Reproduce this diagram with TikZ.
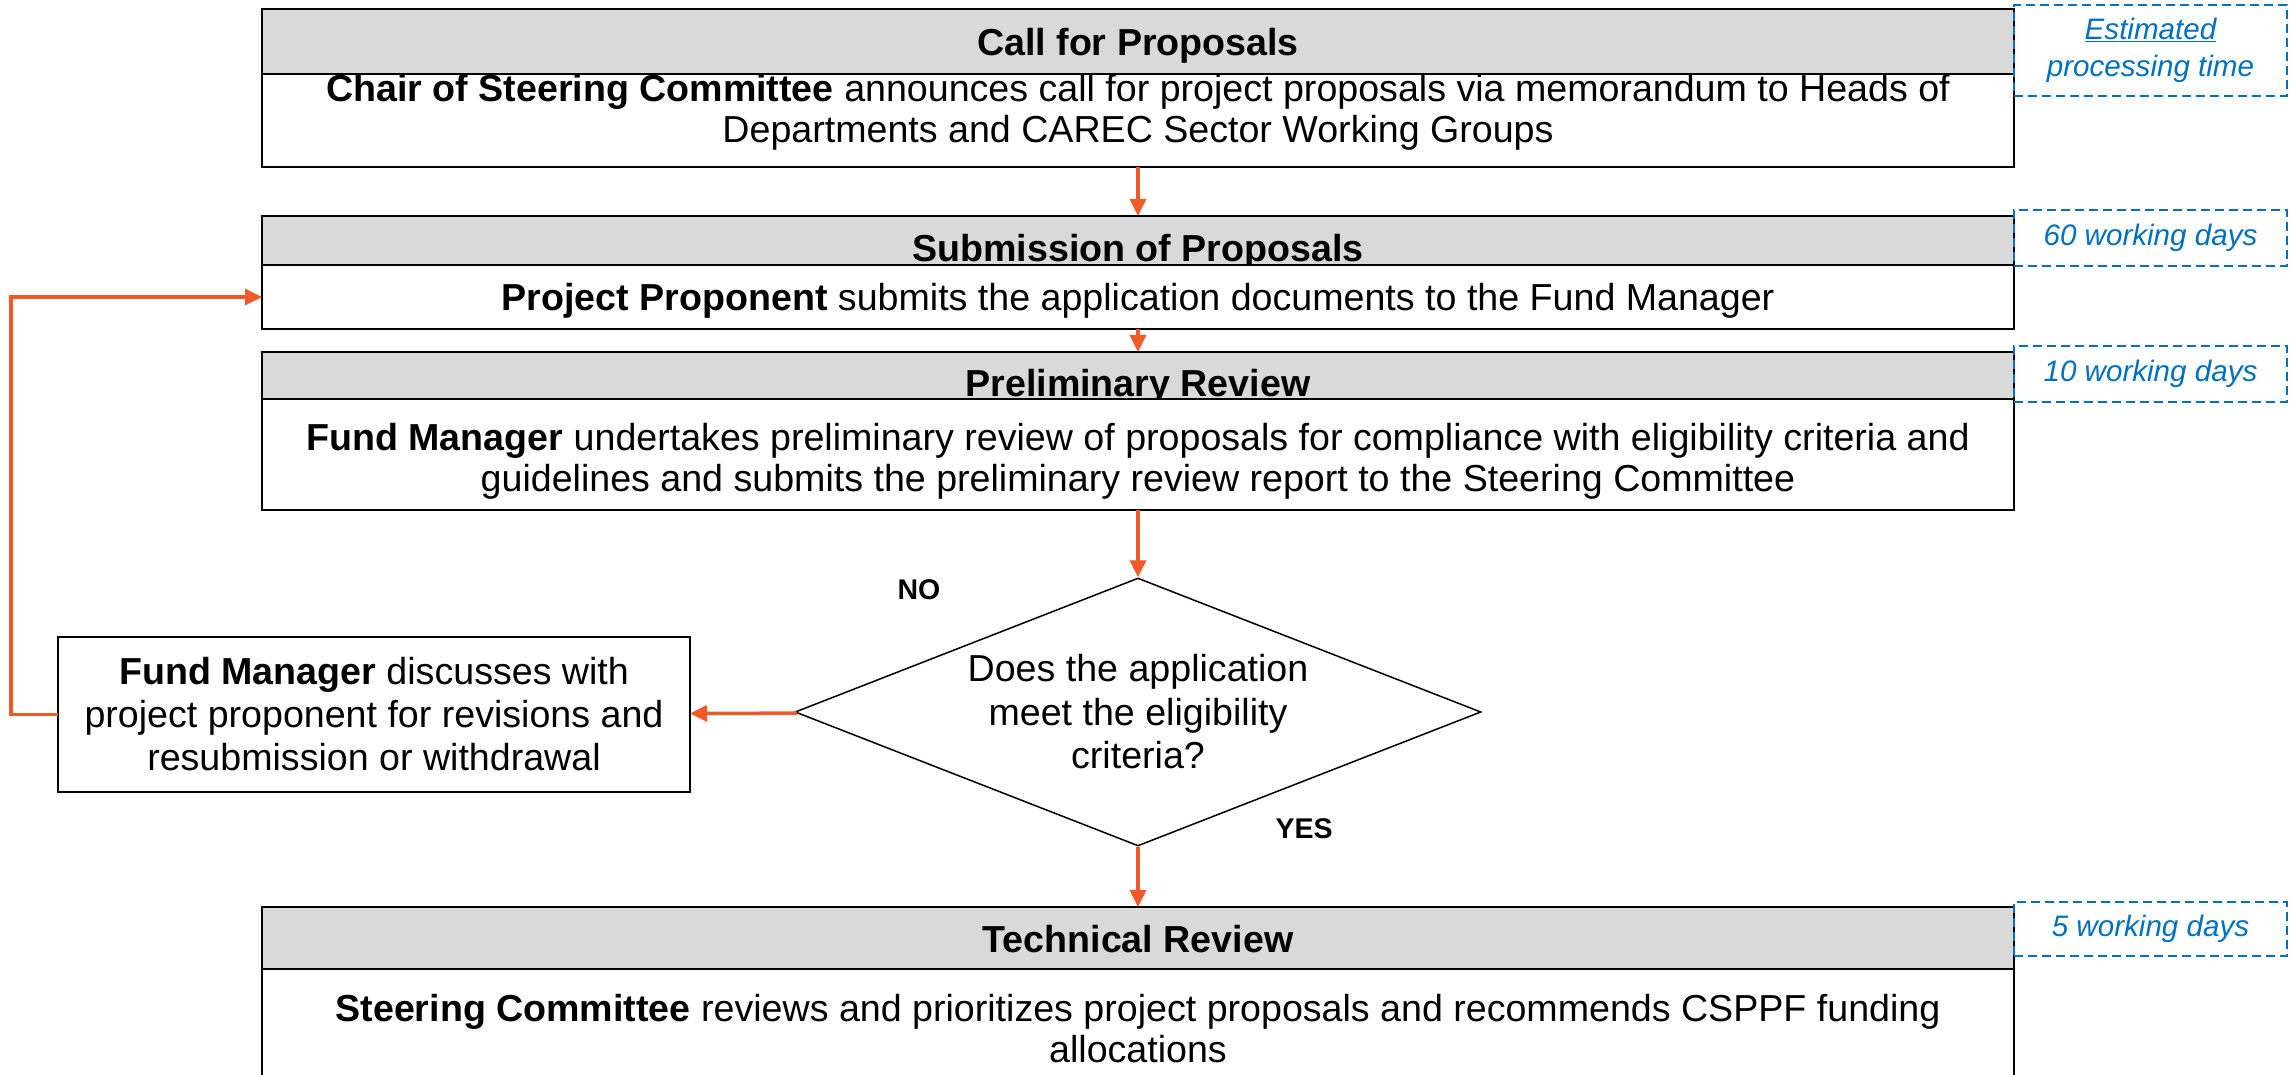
\documentclass[tikz,border=0pt]{standalone}
\usepackage{fontspec}
\setmainfont{Liberation Sans}
\usetikzlibrary{shapes.geometric, arrows.meta, positioning}
\definecolor{headgrey}{RGB}{217,217,217}
\definecolor{flowred}{RGB}{240,90,40}
\definecolor{estblue}{RGB}{0,112,192}
\tikzstyle{head} = [rectangle, draw, line width=2, fill=headgrey, minimum width=1752, inner sep=0, outer sep=0, text depth=0pt, font=\bfseries\fontsize{37.6}{45}\selectfont]
\tikzstyle{body} = [rectangle, draw, line width=2, fill=white, minimum width=1752, inner sep=0, outer sep=0, text depth=0pt, align=center, font=\fontsize{37.6}{41}\selectfont]
\tikzstyle{decision} = [diamond, draw, line width=1.5, aspect=2.56, minimum width=686, minimum height=268, inner sep=0, align=center, font=\fontsize{37.6}{43.5}\selectfont]
\tikzstyle{estbox} = [rectangle, draw=estblue, line width=2, dash pattern=on 9pt off 5pt, minimum width=273, inner sep=0, align=center, text=estblue, font=\itshape\fontsize{29.6}{37}\selectfont]
\tikzstyle{answer} = [font=\bfseries\fontsize{28.5}{34}\selectfont]
\tikzstyle{line} = [draw=flowred, line width=3.5, -{Triangle[length=17pt, width=16pt]}]

\begin{document}
\begin{tikzpicture}[x=1pt, y=-1pt, node distance=0pt]
        \useasboundingbox (0,0) rectangle (2292,1075);
        % Headers
        \node [head, minimum height=65, text height=28pt] (callhead) at (1138,41.5) {Call for Proposals};
        \node [head, minimum height=49, text height=42pt] (subhead) at (1138,240.5) {Submission of Proposals};
        \node [head, minimum height=47, text height=41pt] (prehead) at (1138,375.5) {Preliminary Review};
        \node [head, minimum height=62, text height=28pt] (techhead) at (1138,938) {Technical Review};

        % Bodies
        \node [body, below=of callhead, minimum height=93, text height=45pt] (callbody) {\textbf{Chair of Steering Committee} announces call for project proposals via memorandum to Heads of\\ Departments and CAREC Sector Working Groups};
        \node [body, below=of subhead, minimum height=64, text height=27pt] (subbody) {\textbf{Project Proponent} submits the application documents to the Fund Manager};
        \node [body, below=of prehead, minimum height=111, text height=73pt] (prebody) {\textbf{Fund Manager} undertakes preliminary review of proposals for compliance with eligibility criteria and\\ guidelines and submits the preliminary review report to the Steering Committee};
        \node [body, below=of techhead, minimum height=109, text height=77pt] (techbody) {\textbf{Steering Committee} reviews and prioritizes project proposals and recommends CSPPF funding\\ allocations};

        % Decision and feedback
        \node [decision] (check) at (1138,712) {Does the application\\ meet the eligibility\\ criteria?};
        \node [body, line width=1.5, minimum width=632, minimum height=155, text depth=, text height=, font=\fontsize{37.6}{43}\selectfont] (fund) at (374,714.5) {\textbf{Fund Manager} discusses with\\ project proponent for revisions and\\ resubmission or withdrawal};
        \node [answer] (no) at (919,590) {NO};
        \node [answer] (yes) at (1304,829) {YES};

        % Processing times
        \node [estbox, minimum height=91] (estcall) at (2150.5,50.5) {\underline{Estimated}\\ processing time};
        \node [estbox, minimum height=56] (estsub) at (2150.5,238) {60 working days};
        \node [estbox, minimum height=56] (estpre) at (2150.5,374) {10 working days};
        \node [estbox, minimum height=54] (esttech) at (2150.5,929) {5 working days};

        % Arrows
        \path [line] (callbody) -- (subhead);
        \path [line] (subbody) -- (prehead);
        \path [line] (prebody) -- (check);
        \path [line] (check) -- (fund);
        \path [line] (check) -- (techhead);
        \path [line] (fund.west) -- ++(-47,0) |- (subbody.west);
    \end{tikzpicture}
\end{document}
